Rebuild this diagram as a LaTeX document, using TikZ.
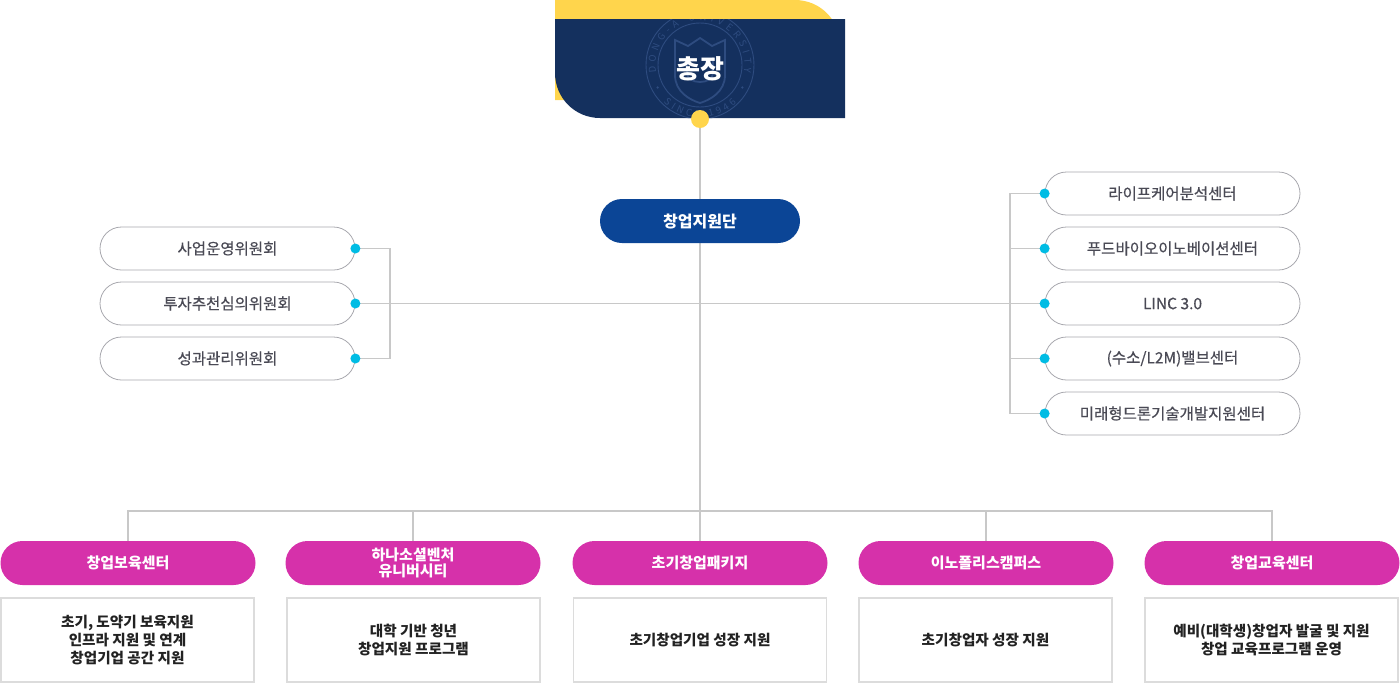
\documentclass[tikz,border=0pt]{standalone}
\usepackage{fontspec}
\setmainfont{Noto Sans CJK KR}
\newfontfamily\kr{Noto Sans CJK KR}
\newfontfamily\krm[FakeBold=0.6]{Noto Sans CJK KR}
\newcommand\sealfnt{\kr\fontsize{9.5}{10}\selectfont}
\usetikzlibrary{decorations.text,backgrounds}
\definecolor{navy}{HTML}{14305E}
\definecolor{yel}{HTML}{FFD54C}
\definecolor{sealc}{HTML}{2E4C80}
\definecolor{hqblue}{HTML}{0B4596}
\definecolor{mag}{HTML}{D631AA}
\definecolor{cyandot}{HTML}{00BCE4}
\definecolor{conngray}{HTML}{C8C8C8}
\definecolor{pillgray}{HTML}{A8A8AE}
\definecolor{txtgray}{HTML}{4A4A55}
\definecolor{boxgray}{HTML}{DCDCDC}
\definecolor{desctxt}{HTML}{222222}
\tikzset{
  conn/.style={draw=conngray,line width=1.8pt},
  commbox/.style={draw=pillgray,line width=0.8pt,fill=white,rounded corners=21.5pt,
    minimum width=255pt,minimum height=43pt,inner sep=0pt,text=txtgray,
    font=\krm\fontsize{15.5}{17}\selectfont},
  cdot/.style={circle,fill=cyandot,minimum size=10pt,inner sep=0pt},
  magbox/.style={fill=mag,rounded corners=22pt,minimum width=255pt,minimum height=44pt,
    inner sep=0pt,text=white,align=center,font=\kr\bfseries\fontsize{15}{16.5}\selectfont},
  descbox/.style={draw=boxgray,line width=1.8pt,fill=white,minimum width=253pt,
    minimum height=84pt,inner sep=0pt,text=desctxt,align=center,
    font=\kr\bfseries\fontsize{14.6}{18.3}\selectfont},
}
\begin{document}
\begin{tikzpicture}[x=1pt,y=-1pt]
\useasboundingbox (0,0) rectangle (1400,683);
% president block
\fill[yel] (555,0) -- (795,0) .. controls (820,0) and (840,20) .. (840,45) -- (840,100) -- (555,100) -- cycle;
\fill[navy] (555,19) -- (845,19) -- (845,118) -- (600,118) .. controls (575,118) and (555,98) .. (555,73) -- cycle;
\begin{scope}
\clip (555,19) -- (845,19) -- (845,118) -- (600,118) .. controls (575,118) and (555,98) .. (555,73) -- cycle;
\begin{scope}[shift={(700,65)},y=1pt]
\draw[sealc,line width=0.9pt] (0,0) circle[radius=54];
\draw[sealc,line width=0.9pt] (0,0) circle[radius=42];
\path[decorate,decoration={text along path,text={|\sealfnt|DONG-A UNIVERSITY},text align={fit to path},
  text color=sealc}]
  (190:44.5) arc[start angle=190,end angle=-10,radius=44.5];
\path[decorate,decoration={text along path,text={|\sealfnt|SINCE 1946},text align={fit to path},
  text color=sealc}]
  (226:52.5) arc[start angle=226,end angle=314,radius=52.5];
\fill[sealc] (208:48) circle[radius=1.3];
\fill[sealc] (332:48) circle[radius=1.3];
\draw[sealc,line width=1.8pt] (-25,25) -- (-25,-10) .. controls (-25,-27) and (-10,-35) .. (0,-38)
  .. controls (10,-35) and (25,-27) .. (25,-10) -- (25,25) -- (12,19) -- (0,27) -- (-12,19) -- cycle;
\draw[sealc,line width=1.8pt] (-13,8) -- (-13,-8) .. controls (-13,-20) and (13,-20) .. (13,-8) -- (13,8);
\end{scope}
\end{scope}
\node[text=white,font=\kr\bfseries\fontsize{26}{28}\selectfont,inner sep=0pt] (pres) at (700,69) {총장};
\node[circle,fill=yel,minimum size=18pt,inner sep=0pt] (ydot) at (700,119) {};
% headquarters
\node[fill=hqblue,rounded corners=22pt,minimum width=200pt,minimum height=44pt,inner sep=0pt,
  text=white,font=\kr\bfseries\fontsize{16}{18}\selectfont] (hq) at (700,221) {창업지원단};
% committees
\node[commbox] (c1) at (227.5,248.5) {사업운영위원회};
\node[commbox] (c2) at (227.5,303.5) {투자추천심의위원회};
\node[commbox] (c3) at (227.5,358.5) {성과관리위원회};
\node[cdot] (c1d) at (c1.east) {};
\node[cdot] (c2d) at (c2.east) {};
\node[cdot] (c3d) at (c3.east) {};
% centers
\node[commbox] (r1) at (1172.5,193.5) {라이프케어분석센터};
\node[commbox] (r2) at (1172.5,248.5) {푸드바이오이노베이션센터};
\node[commbox] (r3) at (1172.5,303.5) {LINC 3.0};
\node[commbox] (r4) at (1172.5,358.5) {(수소/L2M)밸브센터};
\node[commbox] (r5) at (1172.5,413.5) {미래형드론기술개발지원센터};
\node[cdot] (r1d) at (r1.west) {};
\node[cdot] (r2d) at (r2.west) {};
\node[cdot] (r3d) at (r3.west) {};
\node[cdot] (r4d) at (r4.west) {};
\node[cdot] (r5d) at (r5.west) {};
% bottom units
\node[magbox] (m1) at (128,563) {창업보육센터};
\node[magbox] (m2) at (413,563) {하나소셜벤처\\유니버시티};
\node[magbox] (m3) at (700,563) {초기창업패키지};
\node[magbox] (m4) at (986,563) {이노폴리스캠퍼스};
\node[magbox] (m5) at (1272,563) {창업교육센터};
\node[descbox] (b1) at (127.5,640) {초기, 도약기 보육지원\\인프라 지원 및 연계\\창업기업 공간 지원};
\node[descbox] (b2) at (413.5,640) {대학 기반 청년\\창업지원 프로그램};
\node[descbox] (b3) at (700,640) {초기창업기업 성장 지원};
\node[descbox] (b4) at (985.5,640) {초기창업자 성장 지원};
\node[descbox] (b5) at (1271.5,640) {예비(대학생)창업자 발굴 및 지원\\창업 교육프로그램 운영};
% connectors
\coordinate (lbk) at (390,303.5);
\coordinate (rbk) at (1010,303.5);
\coordinate (busmid) at (700,511);
\begin{scope}[on background layer]
\draw[conn] (ydot.center) -- (m3.north);
\draw[conn] (c1d.center) -| (lbk) |- (c3d.center);
\draw[conn] (c2d.center) -- (r3d.center);
\draw[conn] (r1d.center) -| (rbk) |- (r5d.center);
\draw[conn] (r2d.center) -| (rbk);
\draw[conn] (r4d.center) -| (rbk);
\draw[conn] (m1.north) |- (busmid) -| (m5.north);
\draw[conn] (m2.north) -- (m2.north |- busmid);
\draw[conn] (m4.north) -- (m4.north |- busmid);
\end{scope}
\end{tikzpicture}
\end{document}
